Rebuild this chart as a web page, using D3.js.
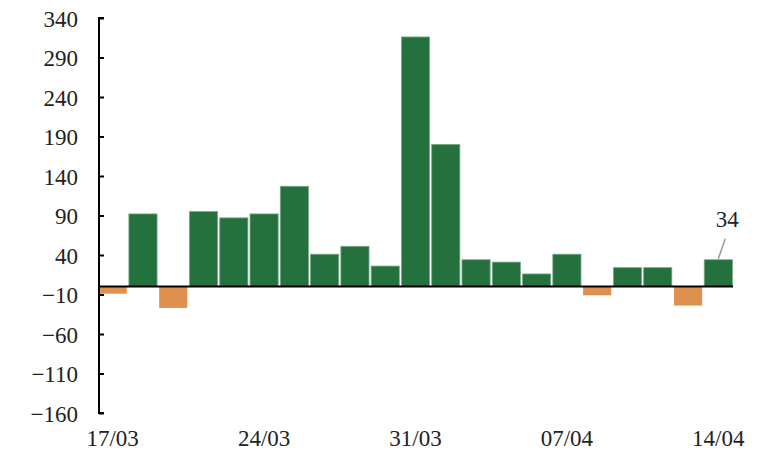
<!DOCTYPE html>
<html>
<head>
<meta charset="utf-8">
<script src="https://cdn.jsdelivr.net/npm/d3@7"></script>
<style>
  body { margin: 0; background: #fff; }
  svg text { font-family: "Liberation Serif", "DejaVu Serif", serif; fill: #222; }
</style>
</head>
<body>
<div id="chart"></div>
<script>
// daily values, 17/03 -> 14/04 (business days)
const days = ["17/03", "18/03", "19/03", "20/03", "21/03",
    "24/03", "25/03", "26/03", "27/03", "28/03",
    "31/03", "01/04", "02/04", "03/04", "04/04",
    "07/04", "08/04", "09/04", "10/04", "11/04",
    "14/04"];
const values = [-9, 92, -27, 95, 87, 92, 127, 41, 51, 26,
    316, 180, 34, 31, 16, 41, -11, 24, 24, -24, 34];
const yTicks = [-160, -110, -60, -10, 40, 90, 140, 190, 240, 290, 340];
const xLabels = ["17/03", "24/03", "31/03", "07/04", "14/04"];

const width = 779, height = 450;
const margin = {top: 18, right: 45, bottom: 37, left: 99};

const svg = d3.select("#chart").append("svg")
    .attr("width", width)
    .attr("height", height);

const x = d3.scaleBand()
    .domain(days)
    .range([margin.left - 1, width - margin.right - 1])
    .paddingInner(0.07)
    .paddingOuter(0.02);

const y = d3.scaleLinear()
    .domain([-160, 340])
    .range([height - margin.bottom, margin.top]);

// bars
svg.selectAll(".bar")
    .data(values)
    .enter()
    .append("rect")
    .attr("class", "bar")
    .attr("x", function(d, i) { return x(days[i]); })
    .attr("width", x.bandwidth())
    .attr("y", function(d) { return y(Math.max(0, d)); })
    .attr("height", function(d) { return Math.abs(y(d) - y(0)); })
    .attr("fill", function(d) { return d >= 0 ? "#24713d" : "#df8f4e"; })
    .attr("stroke", function(d) { return d >= 0 ? "#7aa888" : "none"; })
    .attr("stroke-width", 0.8);

// y axis, ticks pointing inward
const yAxis = d3.axisRight(y).tickValues(yTicks).tickSize(5).tickFormat(function(d) {
    return d < 0 ? "\u2212" + Math.abs(d) : d;
});
const gy = svg.append("g")
    .attr("transform", "translate(" + margin.left + ",0)")
    .call(yAxis);
gy.select(".domain").attr("stroke", "#000").attr("stroke-width", 2)
    .attr("d", "M" + 5 + "," + y(340) + "H0V" + y(-160) + "H5");
gy.selectAll(".tick line").attr("stroke", "#000").attr("stroke-width", 2);
gy.selectAll(".tick text")
    .attr("x", -21)
    .attr("dy", "0.35em")
    .style("text-anchor", "end")
    .style("font-size", "23px");

// zero line
svg.append("line")
    .attr("x1", margin.left)
    .attr("x2", width - margin.right - 1)
    .attr("y1", y(0))
    .attr("y2", y(0))
    .attr("stroke", "#000")
    .attr("stroke-width", 2);

// x labels
svg.selectAll(".xlabel")
    .data(xLabels)
    .enter()
    .append("text")
    .attr("class", "xlabel")
    .attr("x", function(d) { return x(d) + x.bandwidth() / 2; })
    .attr("y", height - 4)
    .style("text-anchor", "middle")
    .style("font-size", "23px")
    .text(function(d) { return d; });

// last value annotation
const last = values.length - 1;
const lx = x(days[last]) + x.bandwidth() / 2;
svg.append("line")
    .attr("x1", lx)
    .attr("y1", y(values[last]) - 1)
    .attr("x2", lx + 7)
    .attr("y2", y(values[last]) - 21)
    .attr("stroke", "#999")
    .attr("stroke-width", 1.5);
svg.append("text")
    .attr("x", lx + 9)
    .attr("y", y(values[last]) - 33)
    .style("text-anchor", "middle")
    .style("font-size", "23px")
    .text(values[last]);
</script>
</body>
</html>
